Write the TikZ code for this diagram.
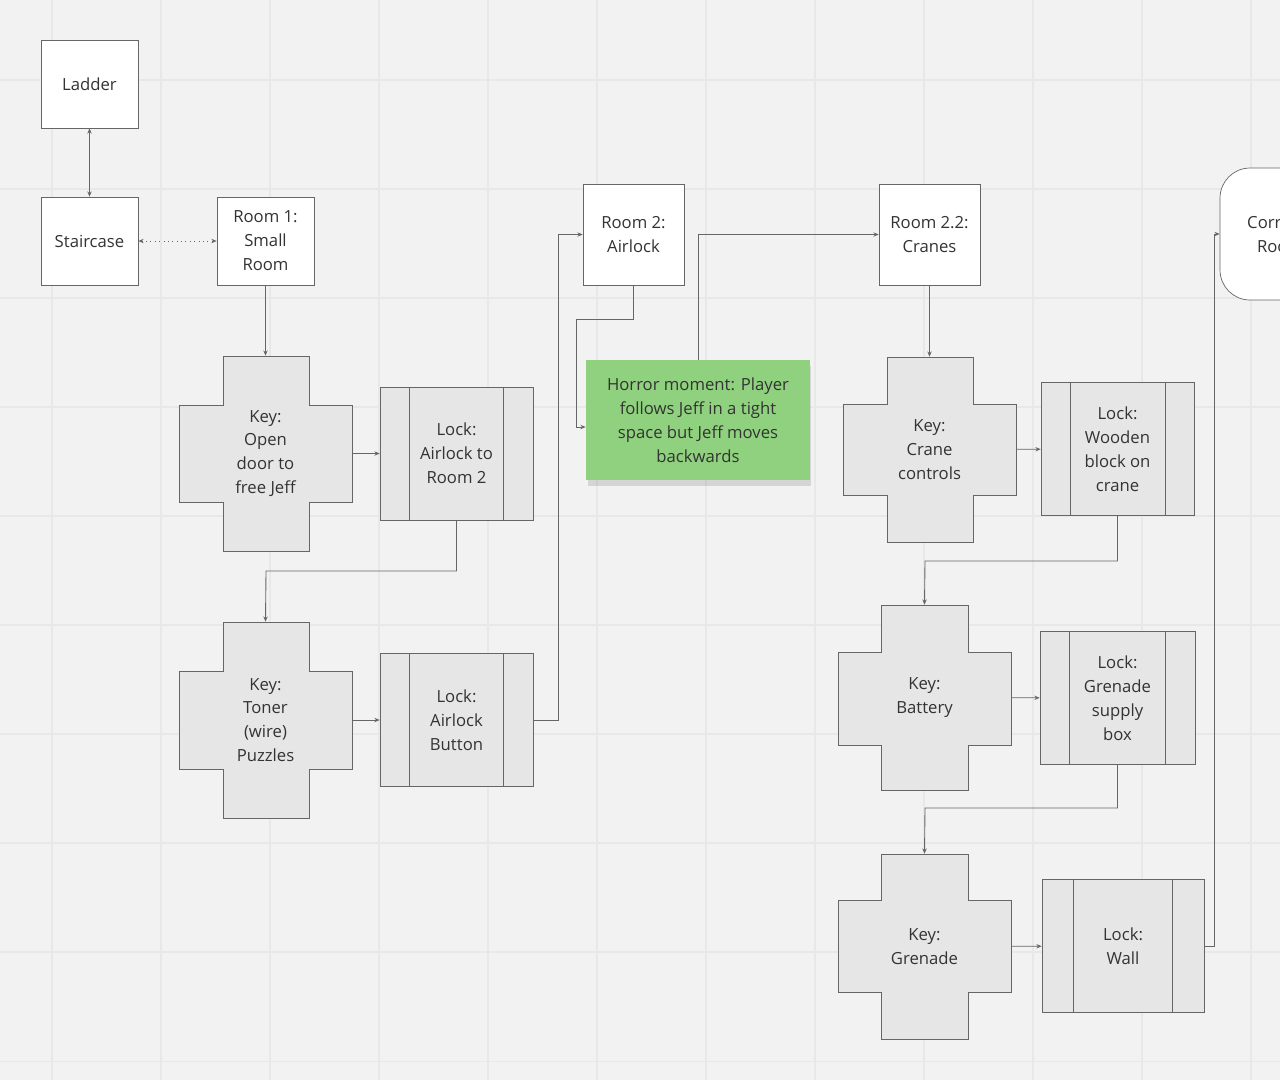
\documentclass[tikz,border=0pt]{standalone}
\usepackage{fontspec}
\setmainfont{Open Sans}
\usetikzlibrary{positioning,calc,shadows,arrows.meta}
\definecolor{bgcol}{HTML}{F2F2F2}
\definecolor{gridcol}{HTML}{E8E8E8}
\definecolor{shapecol}{HTML}{E6E6E6}
\definecolor{linecol}{HTML}{666666}
\definecolor{textcol}{HTML}{333333}
\definecolor{stickycol}{HTML}{8FD17E}

% cross shaped key: x1..x4, y1..y4
\newcommand\keycross[8]{%
  \draw[keyshape] (#2,#5) -- (#3,#5) -- (#3,#6) -- (#4,#6) -- (#4,#7) -- (#3,#7)
    -- (#3,#8) -- (#2,#8) -- (#2,#7) -- (#1,#7) -- (#1,#6) -- (#2,#6) -- cycle;}
% inner lines of a lock
\newcommand\lockbars[3]{%
  \draw[linecol] ($(#1.north west)+(#2,0)$) -- ($(#1.south west)+(#2,0)$);
  \draw[linecol] ($(#1.north east)-(#3,0)$) -- ($(#1.south east)-(#3,0)$);}

\begin{document}
\begin{tikzpicture}[
    x=0.02cm, y=-0.02cm,
    every node/.style={font=\fontsize{9.5}{13.6}\selectfont, text=textcol, align=center, inner sep=0pt},
    room/.style={draw=linecol, fill=white, minimum width=1.94cm, minimum height=1.76cm},
    lock/.style={draw=linecol, fill=shapecol, minimum width=3.06cm, minimum height=2.66cm},
    keyshape/.style={draw=linecol, fill=shapecol},
    keybox/.style={minimum width=3.46cm},
    link/.style={linecol, line width=0.5pt, -{Stealth[length=3pt,width=2.5pt]}},
    sticky/.style={fill=stickycol, minimum width=4.48cm, minimum height=2.4cm,
      drop shadow={shadow xshift=0.3mm, shadow yshift=-1.2mm, opacity=0.25}}
  ]

  % Background
  \fill[bgcol] (0,0) rectangle (1280,1080);
  \clip (0,0) rectangle (1280,1080);
  \foreach \gx in {52,161,...,1280} \draw[gridcol, line width=0.6pt] (\gx,0) -- (\gx,1080);
  \foreach \gy in {80,189,...,1080} \draw[gridcol, line width=0.6pt] (0,\gy) -- (1280,\gy);

  % Rooms
  \node[room] (ladder) at (89.5,84) {Ladder};
  \node[room] (stairs) at (89.5,241) {Staircase};
  \node[room] (room1) at (265.5,241) {Room 1:\\Small\\Room};
  \node[room, minimum width=2.02cm, minimum height=2.02cm] (room2) at (633.5,234.5) {Room 2:\\Airlock};
  \node[room, minimum width=2.02cm, minimum height=2.02cm] (room22) at (929.5,234.5) {Room 2.2:\\Cranes};
  \node[room, rounded corners=0.6cm, minimum width=2.4cm, minimum height=2.64cm] (corr) at (1280,234) {Corridor\\Room};

  % Keys
  \keycross{179}{223}{309}{352}{356}{405}{502}{551}
  \node[keybox, minimum height=3.9cm] (keydoor) at (265.5,453.5) {Key:\\Open\\door to\\free Jeff};
  \keycross{179}{223}{309}{352}{622}{671}{769}{818}
  \node[keybox, minimum height=3.92cm] (keytoner) at (265.5,720) {Key:\\Toner\\(wire)\\Puzzles};
  \keycross{843}{887}{973}{1016}{357}{404}{495}{542}
  \node[keybox, minimum height=3.7cm] (keycrane) at (929.5,449.5) {Key:\\Crane\\controls};
  \keycross{838}{881}{968}{1011}{605}{652}{745}{790}
  \node[keybox, minimum height=3.7cm] (keybattery) at (924.5,697.5) {Key:\\Battery};
  \keycross{838}{881}{968}{1011}{854}{900}{992}{1039}
  \node[keybox, minimum height=3.7cm] (keygrenade) at (924.5,946.5) {Key:\\Grenade};

  % Locks
  \node[lock] (lockairlock) at (456.5,453.5) {Lock:\\Airlock to\\Room 2};
  \lockbars{lockairlock}{30}{30}
  \node[lock] (lockbutton) at (456.5,720) {Lock:\\Airlock\\Button};
  \lockbars{lockbutton}{30}{30}
  \node[lock] (lockblock) at (1117.5,449) {Lock:\\Wooden\\block on\\crane};
  \lockbars{lockblock}{30}{29}
  \node[lock, minimum width=3.1cm] (locksupply) at (1117.5,698) {Lock:\\Grenade\\supply\\box};
  \lockbars{locksupply}{30}{30}
  \node[lock, minimum width=3.24cm] (lockwall) at (1123,946) {Lock:\\Wall};
  \lockbars{lockwall}{32}{32}

  % Sticky note
  \node[sticky] (horror) at (698,420) {Horror moment: Player\\follows Jeff in a tight\\space but Jeff moves\\backwards};
  \coordinate (horrorin) at ($(horror.west)+(0,7)$);

  % Edges
  \draw[link, {Stealth[length=3pt,width=2.5pt]}-{Stealth[length=3pt,width=2.5pt]}] (ladder) -- (stairs);
  \draw[link, dotted, {Stealth[length=3pt,width=2.5pt]}-{Stealth[length=3pt,width=2.5pt]}] (stairs) -- (room1);
  \draw[link] (room1) -- (keydoor);
  \draw[link] (keydoor) -- (lockairlock);
  \draw[link] (lockairlock.south) |- (266,571) -- (keytoner.north);
  \draw[link] (keytoner) -- (lockbutton);
  \draw[link] (lockbutton.east) -- (558,720) |- (room2.west);
  \draw[link] (room2.south) -- (633.5,319) -| (576,427) -- (horrorin);
  \draw[link] (horror.north) |- (room22.west);
  \draw[link] (room22) -- (keycrane);
  \draw[link] (keycrane) -- (lockblock);
  \draw[link] (lockblock.south) |- (925,561) -- (keybattery.north);
  \draw[link] (keybattery) -- (locksupply);
  \draw[link] (locksupply.south) |- (925,808) -- (keygrenade.north);
  \draw[link] (keygrenade) -- (lockwall);
  \draw[link] (lockwall.east) -- (1214,946) |- (corr.west);
\end{tikzpicture}
\end{document}
